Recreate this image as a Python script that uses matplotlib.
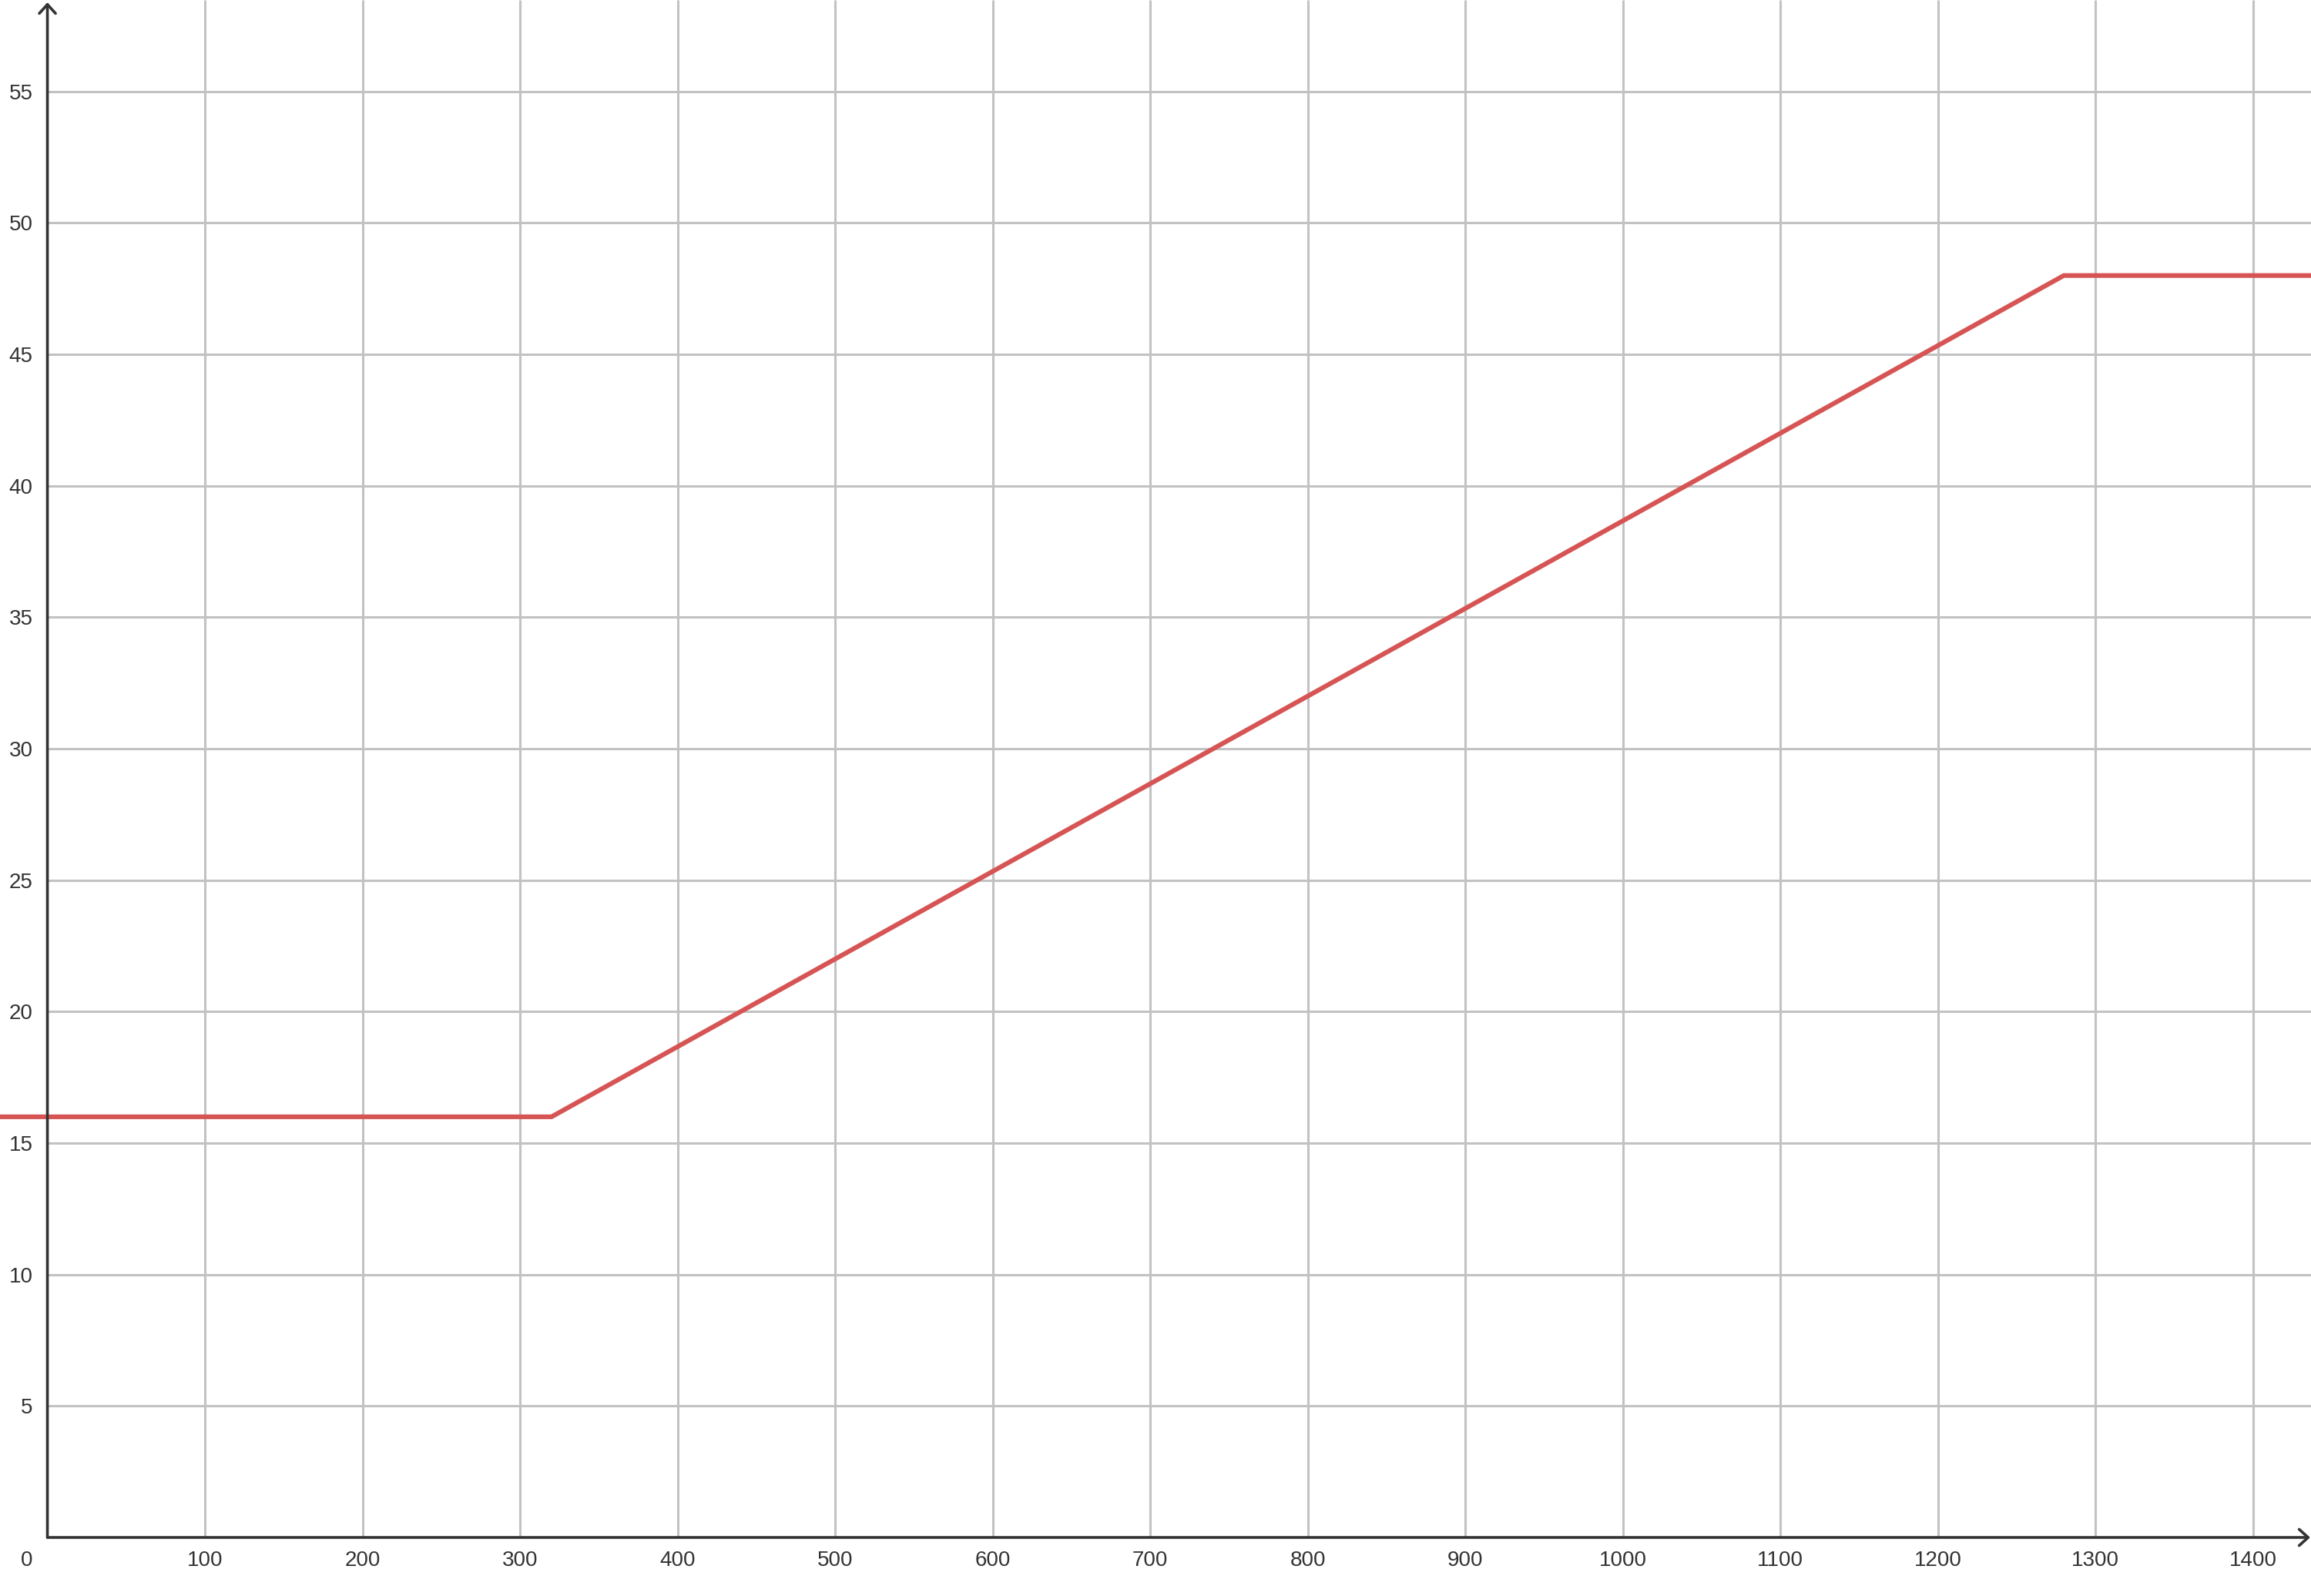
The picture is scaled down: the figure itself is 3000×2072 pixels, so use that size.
import matplotlib
matplotlib.use('Agg')
import matplotlib.pyplot as plt

# data
line_x = [-40, 320, 1280, 1460]
line_y = [16, 16, 48, 48]
xticks = [100, 200, 300, 400, 500, 600, 700, 800, 900, 1000, 1100, 1200, 1300, 1400]
yticks = [5, 10, 15, 20, 25, 30, 35, 40, 45, 50, 55]

plt.rcParams['font.family'] = ['Liberation Sans', 'DejaVu Sans']

fig = plt.figure(figsize=(15, 10.36), dpi=200)
ax = fig.add_axes([0, 0, 1, 1])
xmin, xmax = -30.1, 1436.9
ymin, ymax = -2.227, 58.48
ax.set_xlim(xmin, xmax)
ax.set_ylim(ymin, ymax)
ax.axis('off')

# grid only in positive quadrant
grid_c = '#c2c2c2'
ax.vlines(xticks, 0, ymax, color=grid_c, lw=1.1, zorder=1)
ax.hlines(yticks, 0, xmax, color=grid_c, lw=1.1, zorder=1)

# the red line
ax.plot(line_x, line_y, color='#d65454', lw=2.2, zorder=3, solid_joinstyle='miter')

# axes with arrows
axc = '#333333'
style = '->,head_length=0.42,head_width=0.38'
ax.annotate('', xy=(0, ymax - 0.09), xytext=(0, 0),
            arrowprops=dict(arrowstyle=style, color=axc, lw=1.3, shrinkA=0, shrinkB=0), zorder=4)
ax.annotate('', xy=(xmax - 0.5, 0), xytext=(0, 0),
            arrowprops=dict(arrowstyle=style, color=axc, lw=1.3, shrinkA=0, shrinkB=0), zorder=4)

# tick labels
fs = 10
txt_c = '#333333'
for xv in xticks:
    ax.annotate(str(xv), (xv, 0), xytext=(0, -9.7), textcoords='offset points',
                ha='center', va='center_baseline', fontsize=fs, color=txt_c)
ax.annotate('0', (0, 0), xytext=(-9.7, -9.7), textcoords='offset points',
            ha='center', va='center_baseline', fontsize=fs, color=txt_c)
for yv in yticks:
    ax.annotate(str(yv), (0, yv), xytext=(-6.8, 0), textcoords='offset points',
                ha='right', va='center_baseline', fontsize=fs, color=txt_c)

fig.savefig('out.png', dpi=200, facecolor='white')
